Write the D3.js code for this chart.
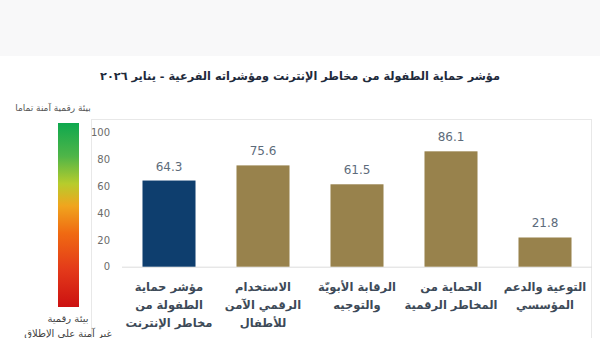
<!DOCTYPE html>
<html><head><meta charset="utf-8">
<script src="https://cdn.jsdelivr.net/npm/d3@7"></script>
<style>
html,body{margin:0;padding:0;background:#fff;}
svg{display:block;}
text{font-family:"DejaVu Sans","Noto Sans",sans-serif;}
</style></head>
<body>
<svg id="c" width="600" height="338"></svg>
<script>
const titleText = "مؤشر حماية الطفولة من مخاطر الإنترنت ومؤشراته الفرعية - يناير ٢٠٢٦";
const categories = [
  ["مؤشر حماية", "الطفولة من", "مخاطر الإنترنت"],
  ["الاستخدام", "الرقمي الآمن", "للأطفال"],
  ["الرقابة الأبويّة", "والتوجيه"],
  ["الحماية من", "المخاطر الرقمية"],
  ["التوعية والدعم", "المؤسسي"]
];
const values = [64.3, 75.6, 61.5, 86.1, 21.8];
const yTicks = [0, 20, 40, 60, 80, 100];
const legendTop = "بيئة رقمية آمنة تماما";
const legendBottom = ["بيئة رقمية", "غير آمنة على الإطلاق"];

const svg = d3.select("#c");
svg.append("rect").attr("x",0).attr("y",0).attr("width",600).attr("height",56).attr("fill","#f8f8f9");

// title
svg.append("text").attr("x",300).attr("y",80).attr("text-anchor","middle")
  .attr("font-size",11.3).attr("font-weight","bold").attr("fill","#1e2a3b")
  .attr("direction","rtl").text(titleText);

// panel border
svg.append("rect").attr("x",91.5).attr("y",119.5).attr("width",500).attr("height",240)
  .attr("fill","none").attr("stroke","#e8e8e8");

// color bar
const defs = svg.append("defs");
const grad = defs.append("linearGradient").attr("id","g").attr("x1",0).attr("y1",0).attr("x2",0).attr("y2",1);
[[0,"#0ea84e"],[0.18,"#4fb548"],[0.33,"#b7cc2c"],[0.45,"#f0a51e"],[0.6,"#f06a12"],[0.8,"#e3391a"],[1,"#cc1111"]]
  .forEach(([o,c])=>grad.append("stop").attr("offset",o).attr("stop-color",c));
svg.append("rect").attr("x",58).attr("y",123).attr("width",21).attr("height",184).attr("fill","url(#g)");
svg.append("text").attr("x",53).attr("y",111).attr("text-anchor","middle").attr("font-size",9)
  .attr("fill","#555").attr("direction","rtl").text(legendTop);
legendBottom.forEach((t,i)=>svg.append("text").attr("x",68).attr("y",322+i*15).attr("text-anchor","middle")
  .attr("font-size",10).attr("fill","#444").attr("direction","rtl").text(t));

// scales
const x = d3.scaleBand().domain(d3.range(values.length)).range([122,592]).paddingInner(0.436).paddingOuter(0.218);
const y = d3.scaleLinear().domain([0,100]).range([266.7,132.7]);

// y axis
const ya = svg.append("g").attr("transform","translate(110,0)")
  .call(d3.axisLeft(y).tickValues(yTicks).tickSize(0).tickPadding(0));
ya.select(".domain").remove();
ya.selectAll("text").attr("font-size",10).attr("fill","#6b6b6b")
  .attr("font-family","'Open Sans','Noto Sans',sans-serif");

// baseline
svg.append("line").attr("x1",122).attr("x2",592).attr("y1",y(0)+0.5).attr("y2",y(0)+0.5).attr("stroke","#dcdcdc");

// bars
svg.selectAll(".bar").data(values).enter().append("rect")
  .attr("x",(d,i)=>x(i)).attr("width",x.bandwidth())
  .attr("y",d=>y(d)).attr("height",d=>y(0)-y(d))
  .attr("fill",(d,i)=>i===0?"#0e3e6e":"#98824c");

svg.selectAll(".val").data(values).enter().append("text")
  .attr("x",(d,i)=>x(i)+x.bandwidth()/2).attr("y",d=>y(d)-10)
  .attr("text-anchor","middle").attr("font-size",12).attr("fill","#5d6b7b")
  .attr("font-family","'Open Sans','Noto Sans',sans-serif").text(d=>d);

// x labels
const xa = svg.append("g");
categories.forEach((lines,i)=>{
  lines.forEach((t,j)=>{
    xa.append("text").attr("x",x(i)+x.bandwidth()/2).attr("y",291+j*18)
      .attr("text-anchor","middle").attr("font-size",11.5).attr("font-weight","bold")
      .attr("fill","#3d4a58").attr("direction","rtl").text(t);
  });
});
</script>
</body></html>
